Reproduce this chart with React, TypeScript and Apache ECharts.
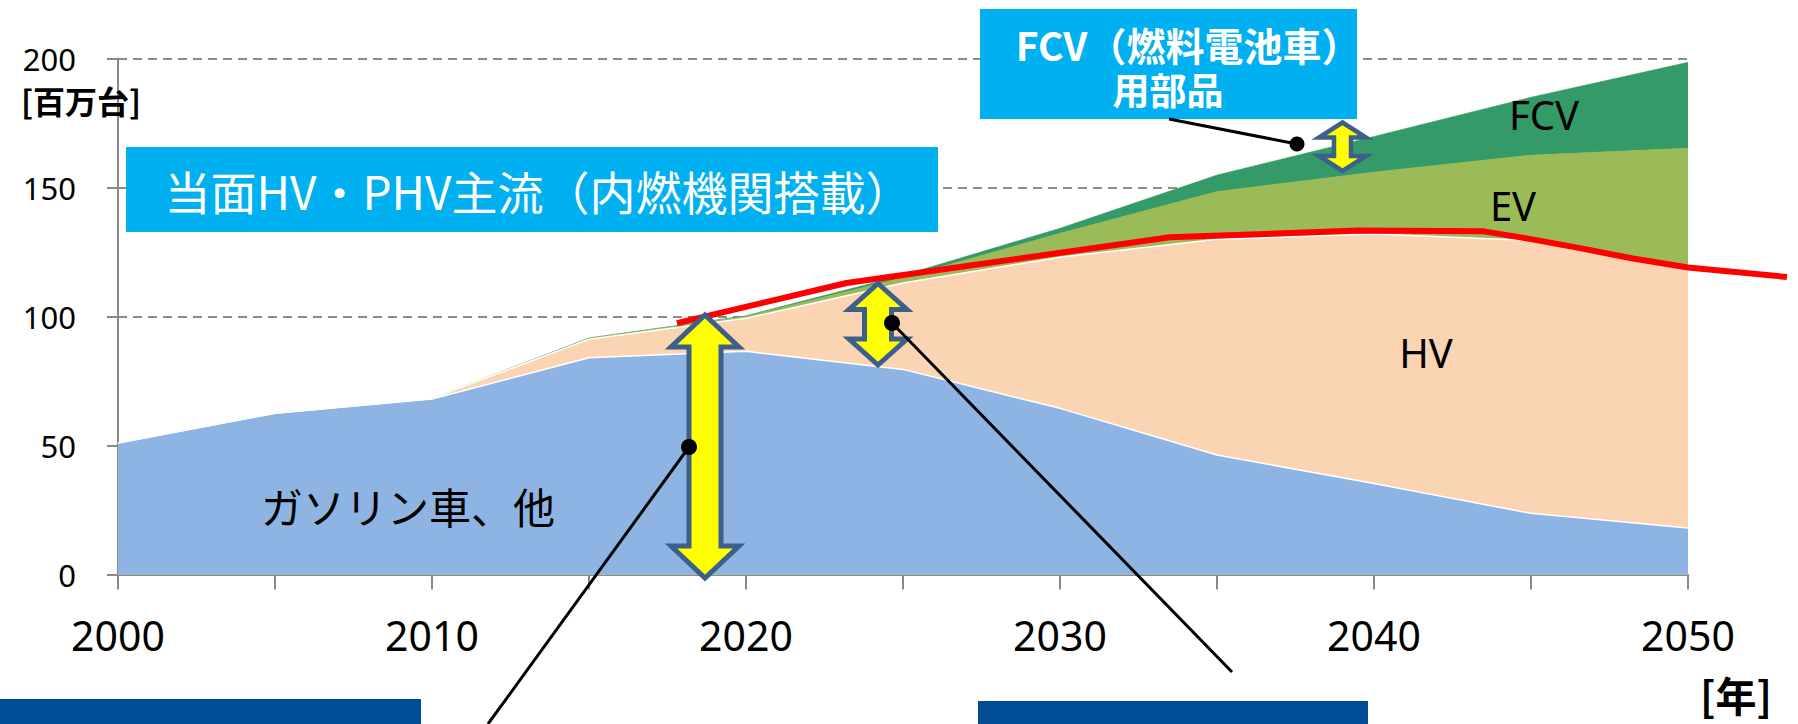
import React, { useEffect, useRef } from "react";
import * as echarts from "echarts";

// ---- data (百万台) ----
const years = [2000, 2005, 2010, 2015, 2020, 2025, 2030, 2035, 2040, 2045, 2050];
const gasoline = [51, 62.5, 68, 84, 86.5, 79.5, 64.4, 46.3, 35.3, 23.7, 18];
const hv = [0, 0, 0.2, 7.2, 12.8, 33.5, 58.6, 83.6, 96.7, 105.8, 100.5];
const ev: (number | null)[] = [null, null, 0, 0.4, 0.7, 2, 9.2, 18.5, 23.9, 33, 46.7];
const fcv: (number | null)[] = [null, null, 0, 0.1, 0.3, 1, 2, 6.4, 13.9, 22.5, 33.3];

const redYears = [2017.8, 2023.2, 2033.5, 2039.5, 2043.5, 2045, 2046.6, 2048.2, 2050, 2053.15];
const redValues = [97.4, 113, 130.7, 133.3, 133, 130, 126.4, 122.6, 119, 115.3];

const yTicks = [0, 50, 100, 150, 200];
const xLabelYears = [2000, 2010, 2020, 2030, 2040, 2050];

const seriesNames = ["ガソリン車、他", "HV", "EV", "FCV"];

// cumulative tops of the stacked areas
function cumulative(layers: (number | null)[][]) {
  return years.map((y, i) => {
    let sum = 0;
    let missing = false;
    for (const l of layers) {
      if (l[i] === null) missing = true;
      else sum += l[i] as number;
    }
    return [y, missing ? "-" : Math.round(sum * 100) / 100];
  });
}

function arrowPoints(cx: number, top: number, bot: number, hw: number, sw: number, hh: number) {
  return [
    [cx, top],
    [cx + hw, top + hh],
    [cx + sw, top + hh],
    [cx + sw, bot - hh],
    [cx + hw, bot - hh],
    [cx, bot],
    [cx - hw, bot - hh],
    [cx - sw, bot - hh],
    [cx - sw, top + hh],
    [cx - hw, top + hh],
  ];
}

export default function App() {
  const ref = useRef<HTMLDivElement>(null);
  useEffect(() => {
    if (!ref.current) return;
    const chart = echarts.init(ref.current, undefined, { renderer: "svg" });
    const gray = "#898989";
    const jp = "'Noto Sans CJK JP', 'Noto Sans', sans-serif";
    const num = "'Noto Sans', 'Open Sans', sans-serif";
    const arrowStroke = "#3C5F8C";
    const yellow = "#FFFF00";
    const Z = 100;
    const PX_PER_YEAR = (1798 - 110 - 118) / 50;
    const redMax = redYears[redYears.length - 1];
    const redRight = 1798 - 118 - (redMax - 2000) * PX_PER_YEAR;
    const areaSeries = (name: string, data: any[], fill: string, line: string, lw: number) => ({
      name,
      type: "line",
      symbol: "none",
      silent: true,
      data,
      lineStyle: { color: line, width: lw },
      areaStyle: { color: fill, opacity: 1, origin: "start" },
    });
    chart.setOption({
      animation: false,
      grid: [
        { left: 118, right: 110, top: 58.5, bottom: 149.5, containLabel: false },
        { left: 118, right: redRight, top: 58.5, bottom: 149.5, containLabel: false },
      ],
      xAxis: [
        {
          type: "value",
          gridIndex: 0,
          min: 2000,
          max: 2050,
          interval: 5,
          axisLine: { show: true, lineStyle: { color: gray, width: 2 } },
          axisTick: { show: true, length: 15, lineStyle: { color: gray, width: 2 } },
          splitLine: { show: false },
          axisLabel: {
            margin: 40,
            fontSize: 41,
            fontFamily: num,
            color: "#000",
            formatter: (v: number) => (xLabelYears.includes(v) ? String(v) : ""),
          },
        },
        {
          type: "value",
          gridIndex: 1,
          min: 2000,
          max: redMax,
          show: false,
        },
      ],
      yAxis: [
        {
          type: "value",
          gridIndex: 0,
          min: yTicks[0],
          max: yTicks[yTicks.length - 1],
          interval: 50,
          axisLine: { show: true, lineStyle: { color: gray, width: 2 } },
          axisTick: { show: true, length: 11, lineStyle: { color: gray, width: 2 } },
          splitLine: { show: true, lineStyle: { color: "#8c8c8c", width: 2, type: [9, 6] } },
          axisLabel: { margin: 42, fontSize: 31, fontFamily: num, color: "#000" },
        },
        {
          type: "value",
          gridIndex: 1,
          min: yTicks[0],
          max: yTicks[yTicks.length - 1],
          show: false,
          splitLine: { show: false },
        },
      ],
      series: [
        areaSeries(seriesNames[3], cumulative([gasoline, hv, ev, fcv]), "#349A68", "#349A68", 0.5),
        areaSeries(seriesNames[2], cumulative([gasoline, hv, ev]), "#9BBB59", "#9BBB59", 1),
        areaSeries(seriesNames[1], cumulative([gasoline, hv]), "#FBD4B4", "#ffffff", 1.5),
        areaSeries(seriesNames[0], cumulative([gasoline]), "#8EB4E3", "#ffffff", 1.5),
        {
          name: "内燃機関搭載車",
          type: "line",
          xAxisIndex: 1,
          yAxisIndex: 1,
          symbol: "none",
          silent: true,
          clip: false,
          z: 5,
          data: redYears.map((y, i) => [y, redValues[i]]),
          lineStyle: { color: "#FF0000", width: 6 },
        },
      ],
      graphic: [
        // y-axis unit
        {
          type: "text", z: Z, left: 21, top: 84,
          style: { text: "[百万台]", font: `bold 32px ${jp}`, fill: "#000" },
        },
        // x-axis unit
        {
          type: "text", z: Z, left: 1700, top: 673,
          style: { text: "[年]", font: `bold 41px ${jp}`, fill: "#000" },
        },
        // series labels
        {
          type: "text", z: Z, x: 261, y: 505,
          style: { text: seriesNames[0], font: `42px ${jp}`, fill: "#000", verticalAlign: "middle", align: "left" },
        },
        {
          type: "text", z: Z, x: 1426, y: 352,
          style: { text: seriesNames[1], font: `40px ${num}`, fill: "#000", verticalAlign: "middle", align: "center" },
        },
        {
          type: "text", z: Z, x: 1513, y: 205,
          style: { text: seriesNames[2], font: `40px ${num}`, fill: "#000", verticalAlign: "middle", align: "center" },
        },
        {
          type: "text", z: Z, x: 1544, y: 114,
          style: { text: seriesNames[3], font: `40px ${num}`, fill: "#000", verticalAlign: "middle", align: "center" },
        },
        // main message box
        {
          type: "rect", z: Z, shape: { x: 126, y: 147, width: 812, height: 85 },
          style: { fill: "#00B0F0" },
        },
        {
          type: "text", z: Z + 1, x: 538, y: 190,
          style: {
            text: "当面HV・PHV主流（内燃機関搭載）", font: `46px ${jp}`, fill: "#ffffff",
            align: "center", verticalAlign: "middle",
          },
        },
        // FCV box
        {
          type: "rect", z: Z, shape: { x: 980, y: 9, width: 377, height: 110 },
          style: { fill: "#00B0F0" },
        },
        {
          type: "text", z: Z + 1, x: 1188, y: 44,
          style: {
            text: "FCV（燃料電池車）", font: `bold 39px ${jp}`, fill: "#ffffff",
            align: "center", verticalAlign: "middle", lineHeight: 40,
          },
        },
        {
          type: "text", z: Z + 1, x: 1168, y: 89,
          style: {
            text: "用部品", font: `bold 37px ${jp}`, fill: "#ffffff",
            align: "center", verticalAlign: "middle", lineHeight: 38,
          },
        },
        // bottom dark blue boxes
        { type: "rect", z: Z, shape: { x: 0, y: 699, width: 421, height: 30 }, style: { fill: "#004C97" } },
        { type: "rect", z: Z, shape: { x: 978, y: 701, width: 390, height: 30 }, style: { fill: "#004C97" } },
        // callout lines + dots
        { type: "line", z: Z + 2, shape: { x1: 689, y1: 447, x2: 488, y2: 724 }, style: { stroke: "#000", lineWidth: 3 } },
        { type: "circle", z: Z + 3, shape: { cx: 689, cy: 447, r: 8 }, style: { fill: "#000" } },
        { type: "line", z: Z + 2, shape: { x1: 892, y1: 323, x2: 1232, y2: 672 }, style: { stroke: "#000", lineWidth: 3 } },
        { type: "circle", z: Z + 3, shape: { cx: 892, cy: 323, r: 8 }, style: { fill: "#000" } },
        { type: "line", z: Z + 2, shape: { x1: 1169, y1: 119, x2: 1297, y2: 144 }, style: { stroke: "#000", lineWidth: 3 } },
        { type: "circle", z: Z + 3, shape: { cx: 1297, cy: 144, r: 7.5 }, style: { fill: "#000" } },
        // arrows
        {
          type: "polygon", z: Z + 1,
          shape: { points: arrowPoints(705, 315, 578, 34, 16, 32) },
          style: { fill: yellow, stroke: arrowStroke, lineWidth: 5, lineJoin: "miter" },
        },
        {
          type: "polygon", z: Z + 1,
          shape: { points: arrowPoints(878, 283.5, 365, 29, 13.5, 26) },
          style: { fill: yellow, stroke: arrowStroke, lineWidth: 5, lineJoin: "miter" },
        },
        {
          type: "polygon", z: Z + 1,
          shape: { points: arrowPoints(1342.5, 122.5, 171, 23.5, 8.5, 15) },
          style: { fill: yellow, stroke: arrowStroke, lineWidth: 4.5, lineJoin: "miter" },
        },
      ],
    });
    return () => chart.dispose();
  }, []);
  return (
    <div
      ref={ref}
      style={{ position: "fixed", left: 0, top: 0, width: 1798, height: 724, background: "#fff" }}
    />
  );
}
